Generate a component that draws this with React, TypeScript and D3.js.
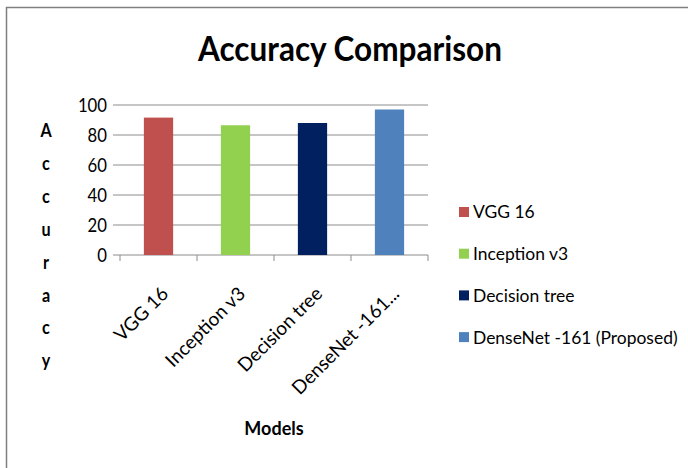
import React from "react";
import * as d3 from "d3";

const models = ["VGG 16", "Inception v3", "Decision tree", "DenseNet -161 (Proposed)"];
const axisLabels = ["VGG 16", "Inception v3", "Decision tree", "DenseNet -161..."];
const accuracy = [91.6, 86.5, 88, 97];
const colors = ["#C0504D", "#92D050", "#002060", "#4F81BD"];
const yTicks = [0, 20, 40, 60, 80, 100];
const title = "Accuracy Comparison";
const yTitle = "Accuracy";
const xTitle = "Models";

const W = 688;
const H = 468;
const FONT = "Lato, 'Open Sans', sans-serif";

export default function App() {
  const x = d3.scaleBand<string>().domain(models).range([120, 428]);
  const y = d3.scaleLinear().domain([0, 100]).range([255, 105]);
  const bw = x.bandwidth();
  const barW = bw * 0.38;
  const grid = "#8C8C8C";
  const bounds = [...models.map((m) => x(m) as number), 428];

  return (
    <svg
      width={W}
      height={H}
      style={{ position: "absolute", left: 0, top: 0, background: "#fff" }}
      fontFamily={FONT}
    >
      <rect x={6.5} y={7.5} width={W + 10} height={H + 10} fill="#fff" stroke="#7F7F7F" strokeWidth={1.5} />
      <text
        x={350}
        y={61}
        textAnchor="middle"
        fontSize={34}
        fontWeight="bold"
        textLength={304}
        lengthAdjust="spacingAndGlyphs"
        fill="#000"
      >
        {title}
      </text>
      {yTicks.map((t) => (
        <g key={t}>
          <line x1={113} x2={428} y1={y(t)} y2={y(t)} stroke={grid} strokeWidth={1} />
          <text
            transform={`translate(107,${y(t)}) scale(0.88,1)`}
            dy="0.36em"
            textAnchor="end"
            fontSize={19}
            fill="#000"
          >
            {t}
          </text>
        </g>
      ))}
      {bounds.map((b, i) => (
        <line key={i} x1={b} x2={b} y1={255} y2={261} stroke={grid} strokeWidth={1} />
      ))}
      {models.map((m, i) => (
        <rect
          key={m}
          x={(x(m) as number) + (bw - barW) / 2}
          y={y(accuracy[i])}
          width={barW}
          height={y(0) - y(accuracy[i])}
          fill={colors[i]}
        />
      ))}
      {models.map((m, i) => {
        const cx = (x(m) as number) + bw / 2;
        return (
          <text
            key={m}
            transform={`translate(${cx + 11},295) rotate(-45)`}
            textAnchor="end"
            fontSize={19}
            fill="#000"
          >
            {axisLabels[i]}
          </text>
        );
      })}
      {yTitle.split("").map((ch, i) => (
        <text
          key={i}
          transform={`translate(46,${137 + i * 32.9}) scale(0.85,1)`}
          textAnchor="middle"
          fontSize={19}
          fontWeight="bold"
          fill="#000"
        >
          {ch}
        </text>
      ))}
      <text x={274} y={435} textAnchor="middle" fontSize={18} fontWeight="bold" fill="#000">
        {xTitle}
      </text>
      {models.map((m, i) => {
        const cy = 212 + i * 41.7;
        return (
          <g key={m}>
            <rect x={459} y={cy - 5} width={10} height={10} fill={colors[i]} />
            <text transform={`translate(473,${cy}) scale(0.97,1)`} dy="0.36em" fontSize={18} fill="#000">
              {m}
            </text>
          </g>
        );
      })}
    </svg>
  );
}
